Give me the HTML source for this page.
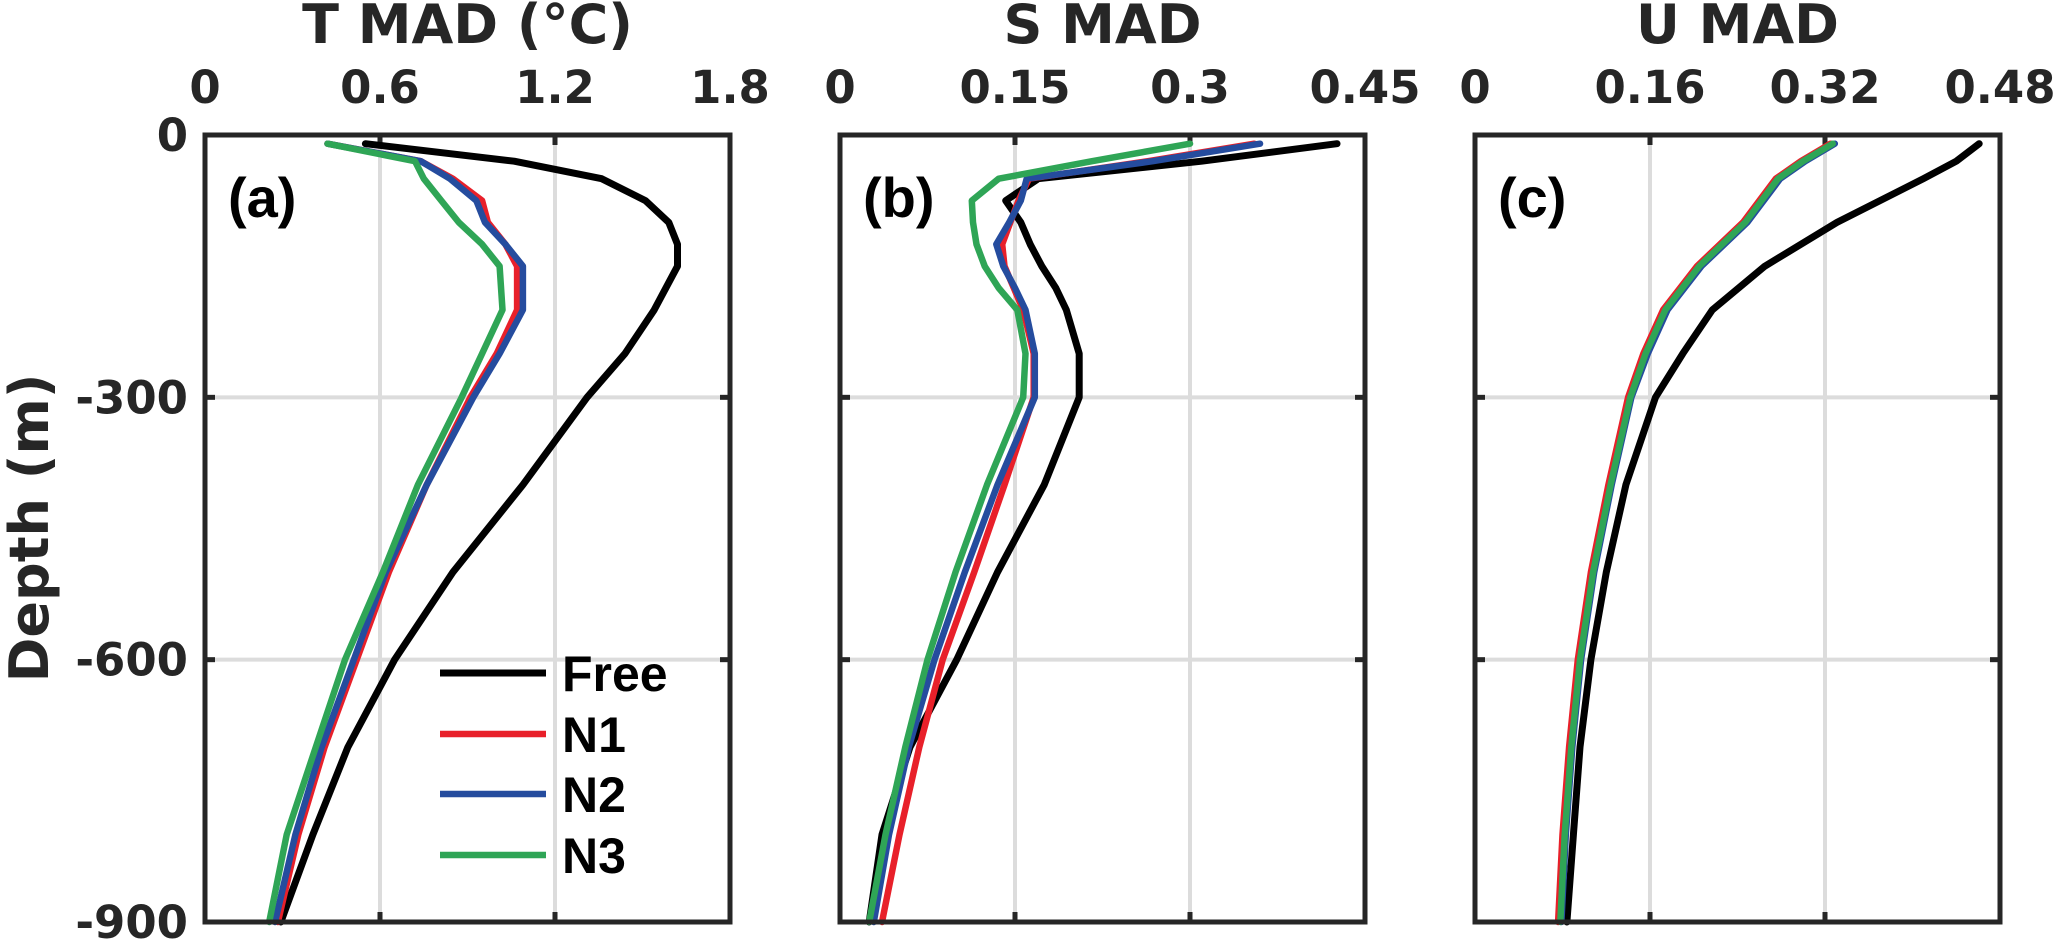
<!DOCTYPE html>
<html><head><meta charset="utf-8"><style>
html,body{margin:0;padding:0;background:#fff;}
svg{display:block;}
.tk{font-family:"DejaVu Sans","Liberation Sans",sans-serif;font-weight:bold;font-size:45px;fill:#262626;}
.tt{font-family:"DejaVu Sans","Liberation Sans",sans-serif;font-weight:bold;font-size:54px;fill:#262626;}
.pl{font-family:"Liberation Sans",sans-serif;font-weight:bold;font-size:56px;fill:#000;}
.lg{font-family:"Liberation Sans",sans-serif;font-weight:bold;font-size:50px;fill:#000;}
</style></head><body>
<svg id="chart" width="2055" height="943" viewBox="0 0 2055 943" xmlns="http://www.w3.org/2000/svg"></svg>
<script>
// Panel (a) T MAD
const depthA = [10,30,50,75,100,125,150,200,250,300,400,500,600,700,800,900];
const freeA  = [0.55,1.06,1.36,1.51,1.59,1.62,1.62,1.54,1.44,1.31,1.09,0.85,0.65,0.49,0.37,0.26];
const n1A    = [0.42,0.74,0.85,0.95,0.97,1.03,1.07,1.07,1.00,0.91,0.76,0.63,0.52,0.41,0.32,0.25];
const n2A    = [0.42,0.74,0.84,0.93,0.96,1.03,1.09,1.09,1.01,0.92,0.76,0.62,0.51,0.40,0.31,0.24];
const n3A    = [0.42,0.72,0.75,0.81,0.87,0.95,1.01,1.02,0.95,0.88,0.73,0.61,0.48,0.38,0.28,0.22];
const ticksA = ["0","0.6","1.2","1.8"];
// Panel (b) S MAD
const depthB = [10,30,50,75,100,125,150,175,200,250,300,400,500,600,700,800,900];
const freeB  = [0.426,0.31,0.17,0.142,0.155,0.163,0.173,0.185,0.194,0.205,0.205,0.175,0.135,0.10,0.06,0.036,0.025];
const n1B    = [0.355,0.264,0.162,0.153,0.146,0.139,0.141,0.149,0.157,0.166,0.166,0.141,0.115,0.088,0.068,0.051,0.036];
const n2B    = [0.36,0.268,0.16,0.155,0.145,0.134,0.14,0.15,0.159,0.167,0.167,0.135,0.107,0.081,0.059,0.042,0.029];
const n3B    = [0.30,0.216,0.136,0.113,0.114,0.117,0.124,0.136,0.152,0.159,0.157,0.126,0.099,0.075,0.056,0.039,0.025];
const ticksB = ["0","0.15","0.3","0.45"];
// Panel (c) U MAD
const depthC = [10,30,50,100,150,200,250,300,400,500,600,700,800,900];
const freeC  = [0.461,0.44,0.41,0.331,0.265,0.217,0.19,0.165,0.138,0.12,0.106,0.096,0.09,0.084];
const n1C    = [0.325,0.298,0.275,0.245,0.203,0.172,0.154,0.140,0.122,0.106,0.094,0.086,0.080,0.076];
const n2C    = [0.329,0.302,0.279,0.249,0.207,0.176,0.158,0.143,0.125,0.109,0.097,0.089,0.083,0.079];
const n3C    = [0.327,0.300,0.277,0.247,0.205,0.174,0.156,0.142,0.124,0.108,0.096,0.088,0.082,0.078];
const ticksC = ["0","0.16","0.32","0.48"];
const depthTicks = [0,-300,-600,-900];
const seriesNames = ["Free","N1","N2","N3"];
const seriesColors = ["#000000","#e8202a","#254c9e","#2fa556"];

const NS="http://www.w3.org/2000/svg";
const svg=document.getElementById('chart');
function mk(tag,attrs,parent){const e=document.createElementNS(NS,tag);for(const k in attrs)e.setAttribute(k,attrs[k]);(parent||svg).appendChild(e);return e;}
const Y0=135,Y1=922;
function yScale(d){return Y0+(Math.abs(d)/900)*(Y1-Y0);}

const panels=[
 {id:'a',x0:205,max:1.8,title:'T MAD (°C)',ticks:ticksA,depth:depthA,series:[freeA,n1A,n2A,n3A]},
 {id:'b',x0:840,max:0.45,title:'S MAD',ticks:ticksB,depth:depthB,series:[freeB,n1B,n2B,n3B]},
 {id:'c',x0:1475,max:0.48,title:'U MAD',ticks:ticksC,depth:depthC,series:[freeC,n1C,n2C,n3C]}
];
const W=525;
panels.forEach(p=>{
  const g=mk('g',{});
  
  
  const xs=v=>p.x0+v/p.max*W;
  // gridlines
  p.ticks.forEach((t,i)=>{
    const x=xs(parseFloat(t));
    if(i>0&&i<p.ticks.length-1){
      const gl=mk('line',{x1:x,x2:x,y1:Y0,y2:Y1,stroke:'#dcdcdc','stroke-width':4},g);
      
      
    }
    const tl=mk('text',{x:x,y:103,'text-anchor':'middle',class:'tk'},g);
    tl.textContent=t;
    
    
    mk('line',{x1:x,x2:x,y1:Y0,y2:Y0+10,stroke:'#262626','stroke-width':5},g);
    mk('line',{x1:x,x2:x,y1:Y1,y2:Y1-10,stroke:'#262626','stroke-width':5},g);
  });
  depthTicks.forEach((d,i)=>{
    const y=yScale(d);
    if(i>0&&i<depthTicks.length-1){
      const gl=mk('line',{x1:p.x0,x2:p.x0+W,y1:y,y2:y,stroke:'#dcdcdc','stroke-width':4},g);
      
      
    }
    mk('line',{x1:p.x0,x2:p.x0+10,y1:y,y2:y,stroke:'#262626','stroke-width':5},g);
    mk('line',{x1:p.x0+W,x2:p.x0+W-10,y1:y,y2:y,stroke:'#262626','stroke-width':5},g);
  });
  // series
  p.series.forEach((vals,si)=>{
    const pts=vals.map((v,k)=>xs(v).toFixed(1)+','+yScale(p.depth[k]).toFixed(1)).join(' ');
    const pl=mk('polyline',{points:pts,fill:'none',stroke:seriesColors[si],'stroke-width':si===0?7:6.5,'stroke-linejoin':'round','stroke-linecap':'round'},g);
    
    
  });
  const fr=mk('rect',{x:p.x0,y:Y0,width:W,height:Y1-Y0,fill:'none',stroke:'#262626','stroke-width':5},g);
  
  
  const tt=mk('text',{x:p.x0+W/2,y:43,'text-anchor':'middle',class:'tt'},g);
  tt.textContent=p.title;
  
  
  const lb=mk('text',{x:p.x0+23,y:217,class:'pl'},g);
  lb.textContent='('+p.id+')';
  
  
});
// y tick labels
depthTicks.forEach(d=>{
  const t=mk('text',{x:188,y:yScale(d)+16,'text-anchor':'end',class:'tk'});
  t.textContent=String(d);
  
  
});
const yt=mk('text',{x:48,y:528,'text-anchor':'middle',class:'tt',transform:'rotate(-90 48 528)'});
yt.textContent='Depth (m)';


// legend
const lgY=[673,734,794,855];
seriesNames.forEach((n,i)=>{
  const g=mk('g',{});
  
  
  mk('line',{x1:440,x2:546,y1:lgY[i],y2:lgY[i],stroke:seriesColors[i],'stroke-width':i===0?7:6.5},g);
  const t=mk('text',{x:562,y:lgY[i]+18,class:'lg'},g);
  t.textContent=n;
});
</script>
</body></html>
